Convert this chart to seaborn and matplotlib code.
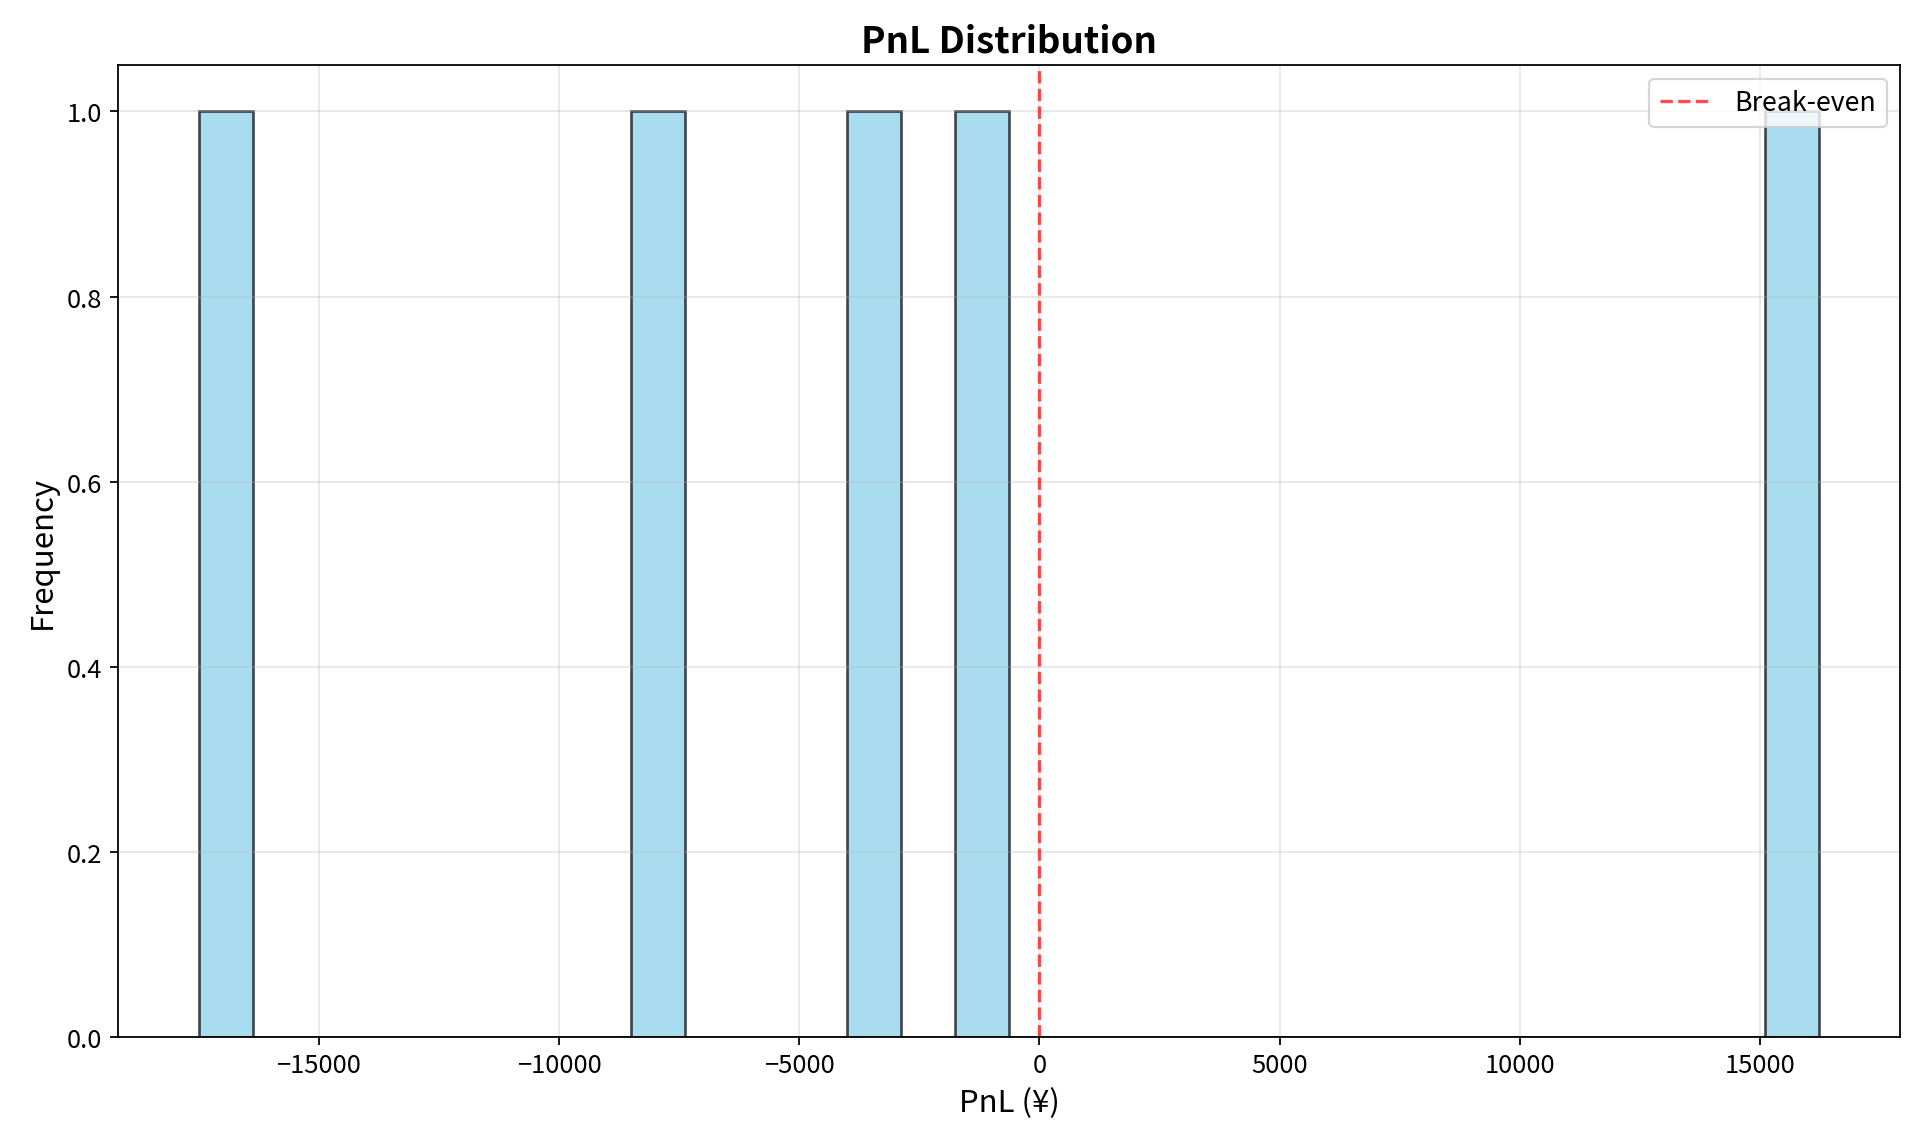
import matplotlib
matplotlib.use("Agg")
import matplotlib.pyplot as plt
import seaborn as sns
import pandas as pd

# Data (trade PnL values, yen)
pnl_values = [-17500, -7900, -3450, -1180, 16230]
n_bins = 30
breakeven = 0

plt.rcParams['font.family'] = ['Noto Sans CJK JP', 'DejaVu Sans']
plt.rcParams['axes.unicode_minus'] = True

df = pd.DataFrame({"pnl": pnl_values})

fig, ax = plt.subplots(figsize=(12, 7.156), dpi=160)
sns.histplot(data=df, x="pnl", bins=n_bins, color="skyblue", alpha=0.7,
             edgecolor=(0, 0, 0, 0.7), linewidth=1.2, ax=ax)
ax.axvline(breakeven, color="red", linestyle="--", alpha=0.7, linewidth=1.5,
           label="Break-even")
ax.set_title("PnL Distribution", fontsize=16.5, fontweight="bold")
ax.set_xlabel("PnL (¥)", fontsize=14)
ax.set_ylabel("Frequency", fontsize=14)
ax.tick_params(labelsize=11.5)
ax.grid(True, alpha=0.3)
ax.legend(loc="upper right", fontsize=12)
fig.subplots_adjust(left=0.0612, right=0.9898, top=0.9422, bottom=0.0936)
fig.savefig("out.png", dpi=160)
